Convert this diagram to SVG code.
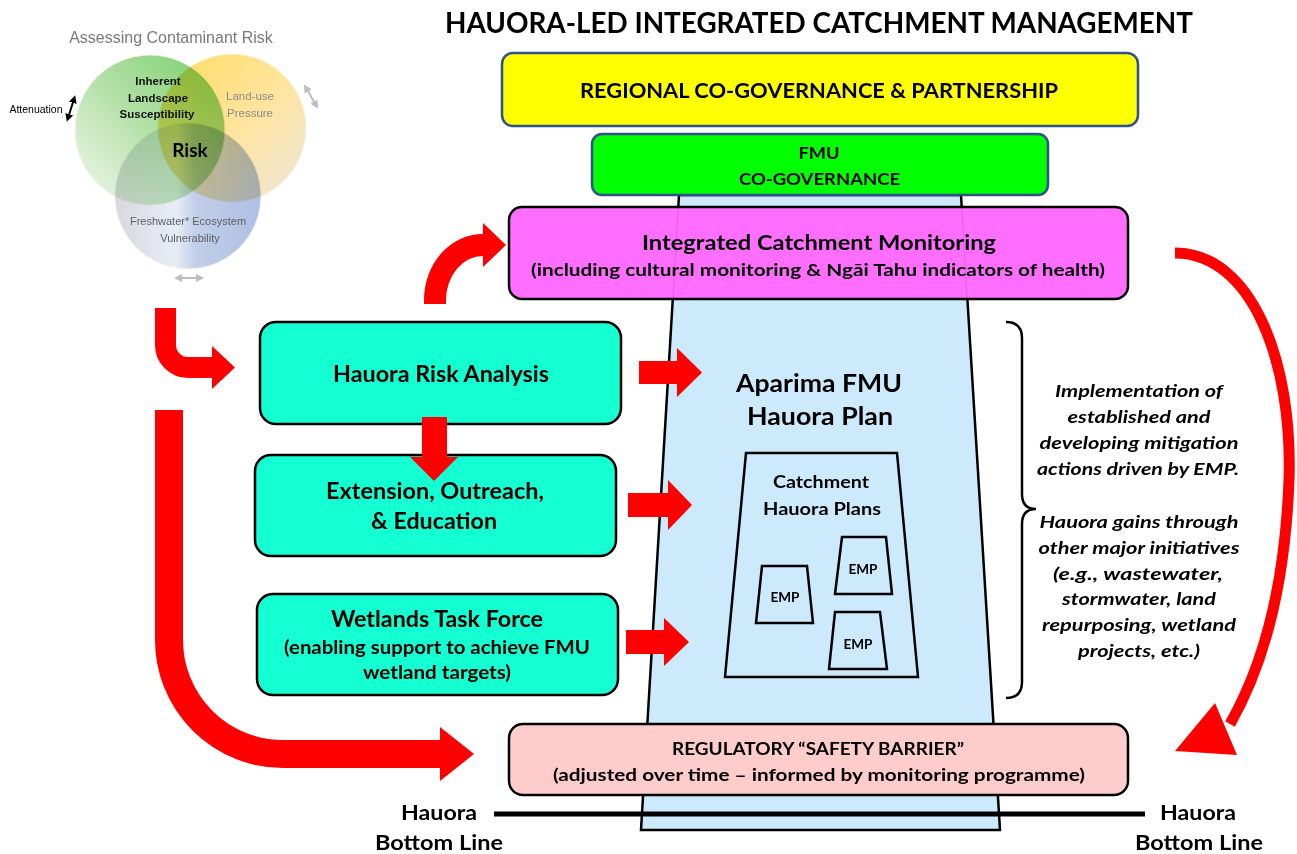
<svg xmlns="http://www.w3.org/2000/svg" width="1297" height="854" viewBox="0 0 1297 854">
  <style>
    .t { font-family: Lato, "Liberation Sans", Arial, sans-serif; font-weight: 700; fill: #000; text-anchor: middle; }
    .bi { font-family: Lato, "Liberation Sans", Arial, sans-serif; font-weight: 700; font-style: italic; fill: #000; text-anchor: middle; font-size: 17px; }
    .v { font-family: "Liberation Sans", Arial, sans-serif; text-anchor: middle; }
    .box { stroke: #000; stroke-width: 2.5; }
    .teal { fill: #14FFD2; }
    .red { fill: #FF0000; }
    .redline { fill: none; stroke: #FF0000; stroke-linecap: butt; }
    .venn { mix-blend-mode: multiply; stroke: #F4F0E6; stroke-width: 1; }
  </style>
  <defs>
    <linearGradient id="gGreen" x1="1" y1="0" x2="0" y2="1">
      <stop offset="0" stop-color="#62C853"/>
      <stop offset="0.5" stop-color="#A6DB97"/>
      <stop offset="1" stop-color="#F1F8EE"/>
    </linearGradient>
    <linearGradient id="gYellow" x1="0" y1="0" x2="1" y2="1">
      <stop offset="0" stop-color="#FFD646"/>
      <stop offset="0.5" stop-color="#FFE08A"/>
      <stop offset="1" stop-color="#EAE2D6"/>
    </linearGradient>
    <linearGradient id="gBlue" x1="0" y1="0" x2="1" y2="0">
      <stop offset="0" stop-color="#D2D2DA"/>
      <stop offset="0.42" stop-color="#E4EAF4"/>
      <stop offset="0.55" stop-color="#B7C7E6"/>
      <stop offset="1" stop-color="#A1B5DF"/>
    </linearGradient>
    <marker id="ahBlack" viewBox="0 0 10 10" refX="5" refY="5" markerWidth="4" markerHeight="4" orient="auto-start-reverse">
      <path d="M0,0 L10,5 L0,10 Z" fill="#000"/>
    </marker>
    <marker id="ahGray" viewBox="0 0 10 10" refX="5" refY="5" markerWidth="4" markerHeight="4" orient="auto-start-reverse">
      <path d="M0,0 L10,5 L0,10 Z" fill="#BDBDBD"/>
    </marker>
  </defs>

  <rect width="1297" height="854" fill="#FFFFFF"/>

  <!-- Contaminant risk Venn -->
  <g id="venn">
    <text class="v" x="171" y="43" font-size="16" fill="#7A7A7A">Assessing Contaminant Risk</text>
    <circle class="venn" cx="150" cy="130" r="75" fill="url(#gGreen)" opacity="0.86"/>
    <circle class="venn" cx="232" cy="128" r="74" fill="url(#gYellow)" opacity="0.86"/>
    <circle class="venn" cx="188" cy="196" r="73" fill="url(#gBlue)" opacity="0.86"/>
    <text class="v" x="158" y="85" font-size="11.5" font-weight="700" fill="#111" text-anchor="end">Inherent</text>
    <text class="v" x="158" y="102" font-size="11.5" font-weight="700" fill="#111" text-anchor="end">Landscape</text>
    <text class="v" x="157" y="118" font-size="11.5" font-weight="700" fill="#111" text-anchor="end">Susceptibility</text>
    <text class="v" x="250" y="100" font-size="11.5" fill="#8A8A8A">Land-use</text>
    <text class="v" x="250" y="117" font-size="11.5" fill="#8A8A8A">Pressure</text>
    <text class="t" x="190" y="157" font-size="19">Risk</text>
    <text class="v" x="188" y="225" font-size="11" fill="#5E5E66">Freshwater* Ecosystem</text>
    <text class="v" x="190" y="242" font-size="11" fill="#5E5E66">Vulnerability</text>
    <text class="v" x="36" y="113" font-size="10.5" fill="#000">Attenuation</text>
    <line x1="68" y1="118" x2="74" y2="99" stroke="#000" stroke-width="2" marker-start="url(#ahBlack)" marker-end="url(#ahBlack)"/>
    <line x1="306" y1="88" x2="316" y2="105" stroke="#BDBDBD" stroke-width="2" marker-start="url(#ahGray)" marker-end="url(#ahGray)"/>
    <line x1="178" y1="278" x2="200" y2="278" stroke="#BDBDBD" stroke-width="2" marker-start="url(#ahGray)" marker-end="url(#ahGray)"/>
  </g>

  <!-- Title -->
  <text class="t" x="819" y="33" font-size="28" textLength="748" lengthAdjust="spacingAndGlyphs">HAUORA-LED INTEGRATED CATCHMENT MANAGEMENT</text>

  <!-- FMU plan column -->
  <g id="fmu-plan">
    <polygon points="679,195 961,195 1000,830 641,830" fill="#CDEAFC" stroke="#000" stroke-width="2.5"/>
    <text class="t" x="819" y="392" font-size="24" textLength="166" lengthAdjust="spacingAndGlyphs">Aparima FMU</text>
    <text class="t" x="820" y="425" font-size="24" textLength="146" lengthAdjust="spacingAndGlyphs">Hauora Plan</text>
  </g>

  <g id="catchment-plans">
    <polygon points="746,453 897,453 918,677 725,677" fill="none" stroke="#000" stroke-width="2.5"/>
    <text class="t" x="821" y="488" font-size="16.5" textLength="96" lengthAdjust="spacingAndGlyphs">Catchment</text>
    <text class="t" x="822" y="515" font-size="16.5" textLength="118" lengthAdjust="spacingAndGlyphs">Hauora Plans</text>
  </g>
  <g id="emp-1">
    <polygon points="762,566 807,566 813,623 756,623" fill="none" stroke="#000" stroke-width="2.5"/>
    <text class="t" x="785" y="602" font-size="14" textLength="29" lengthAdjust="spacingAndGlyphs">EMP</text>
  </g>
  <g id="emp-2">
    <polygon points="842,537 886,537 892,594 835,594" fill="none" stroke="#000" stroke-width="2.5"/>
    <text class="t" x="863" y="574" font-size="14" textLength="29" lengthAdjust="spacingAndGlyphs">EMP</text>
  </g>
  <g id="emp-3">
    <polygon points="835,612 880,612 887,669 829,669" fill="none" stroke="#000" stroke-width="2.5"/>
    <text class="t" x="858" y="649" font-size="14" textLength="29" lengthAdjust="spacingAndGlyphs">EMP</text>
  </g>

  <!-- Governance tiers -->
  <g id="regional">
    <rect x="502" y="53" width="636" height="73" rx="11" fill="#FFFF00" stroke="#2F528F" stroke-width="2.5"/>
    <text class="t" x="819" y="98" font-size="21" textLength="478" lengthAdjust="spacingAndGlyphs">REGIONAL CO-GOVERNANCE &amp; PARTNERSHIP</text>
  </g>
  <g id="fmu-cogov">
    <rect x="592" y="134" width="456" height="61" rx="10" fill="#00FF00" stroke="#2F528F" stroke-width="2.5"/>
    <text class="t" x="819" y="159" font-size="17.5" textLength="41" lengthAdjust="spacingAndGlyphs">FMU</text>
    <text class="t" x="819.5" y="185" font-size="17.5" textLength="161" lengthAdjust="spacingAndGlyphs">CO-GOVERNANCE</text>
  </g>
  <g id="monitoring">
    <rect class="box" x="509" y="207" width="619" height="92" rx="13" fill="#FF6EFF"/>
    <!-- column edges showing faintly through the monitoring panel -->
    <line x1="678" y1="208" x2="673" y2="298" stroke="#000" stroke-width="1" opacity="0.12"/>
    <line x1="962" y1="208" x2="967" y2="298" stroke="#000" stroke-width="1" opacity="0.12"/>
    <text class="t" x="819" y="250" font-size="21" textLength="354" lengthAdjust="spacingAndGlyphs">Integrated Catchment Monitoring</text>
    <text class="t" x="818" y="276" font-size="17" textLength="574" lengthAdjust="spacingAndGlyphs">(including cultural monitoring &amp; Ngāi Tahu indicators of health)</text>
  </g>

  <!-- Hauora actions -->
  <g id="risk-analysis">
    <rect class="box teal" x="260" y="322" width="361" height="102" rx="16"/>
    <text class="t" x="441" y="382" font-size="22" textLength="216" lengthAdjust="spacingAndGlyphs">Hauora Risk Analysis</text>
  </g>
  <g id="extension">
    <rect class="box teal" x="255" y="455" width="361" height="101" rx="16"/>
    <text class="t" x="435" y="499" font-size="22" textLength="218" lengthAdjust="spacingAndGlyphs">Extension, Outreach,</text>
    <text class="t" x="434" y="529" font-size="22" textLength="126" lengthAdjust="spacingAndGlyphs">&amp; Education</text>
  </g>
  <g id="wetlands">
    <rect class="box teal" x="257" y="594" width="361" height="101" rx="16"/>
    <text class="t" x="437" y="627" font-size="22" textLength="212" lengthAdjust="spacingAndGlyphs">Wetlands Task Force</text>
    <text class="t" x="437" y="654" font-size="18" textLength="306" lengthAdjust="spacingAndGlyphs">(enabling support to achieve FMU</text>
    <text class="t" x="437" y="679" font-size="18" textLength="148" lengthAdjust="spacingAndGlyphs">wetland targets)</text>
  </g>

  <!-- Regulatory barrier and bottom line -->
  <g id="regulatory">
    <rect class="box" x="509" y="724" width="619" height="71" rx="14" fill="#FFCCCC"/>
    <text class="t" x="818" y="755" font-size="16.5" textLength="292" lengthAdjust="spacingAndGlyphs">REGULATORY “SAFETY BARRIER”</text>
    <text class="t" x="819" y="781" font-size="17" textLength="532" lengthAdjust="spacingAndGlyphs">(adjusted over time – informed by monitoring programme)</text>
  </g>
  <g id="bottom-line">
    <line x1="494" y1="814" x2="1145" y2="814" stroke="#000" stroke-width="5"/>
    <text class="t" x="439" y="820" font-size="20" textLength="76" lengthAdjust="spacingAndGlyphs">Hauora</text>
    <text class="t" x="439" y="850" font-size="20" textLength="128" lengthAdjust="spacingAndGlyphs">Bottom Line</text>
    <text class="t" x="1198" y="820" font-size="20" textLength="76" lengthAdjust="spacingAndGlyphs">Hauora</text>
    <text class="t" x="1199" y="850" font-size="20" textLength="128" lengthAdjust="spacingAndGlyphs">Bottom Line</text>
  </g>

  <!-- Mitigation actions note -->
  <g id="mitigation-note">
    <path d="M1006,322 Q1022,322 1022,338 L1022,494 Q1022,509 1036,509 Q1022,509 1022,524 L1022,682 Q1022,698 1006,698" fill="none" stroke="#000" stroke-width="2.5"/>
    <text class="bi" x="1139" y="397" textLength="168" lengthAdjust="spacingAndGlyphs">Implementation of</text>
    <text class="bi" x="1139" y="423" textLength="143" lengthAdjust="spacingAndGlyphs">established and</text>
    <text class="bi" x="1139" y="449" textLength="199" lengthAdjust="spacingAndGlyphs">developing mitigation</text>
    <text class="bi" x="1138" y="475" textLength="202" lengthAdjust="spacingAndGlyphs">actions driven by EMP.</text>
    <text class="bi" x="1139" y="528" textLength="199" lengthAdjust="spacingAndGlyphs">Hauora gains through</text>
    <text class="bi" x="1139" y="554" textLength="201" lengthAdjust="spacingAndGlyphs">other major initiatives</text>
    <text class="bi" x="1138" y="580" textLength="170" lengthAdjust="spacingAndGlyphs">(e.g., wastewater,</text>
    <text class="bi" x="1139" y="605" textLength="154" lengthAdjust="spacingAndGlyphs">stormwater, land</text>
    <text class="bi" x="1139" y="631" textLength="194" lengthAdjust="spacingAndGlyphs">repurposing, wetland</text>
    <text class="bi" x="1139" y="657" textLength="122" lengthAdjust="spacingAndGlyphs">projects, etc.)</text>
  </g>

  <!-- Connectors -->
  <g id="connectors">
    <!-- risk assessment into analysis -->
    <path class="redline" d="M165.5,308 L165.5,345 A22.5,22.5 0 0 0 188,367.5 L214,367.5" stroke-width="21"/>
    <polygon class="red" points="212,346 235,367.5 212,389"/>
    <!-- risk assessment straight to regulatory barrier -->
    <path class="redline" d="M169,410 L169,640 A114,114 0 0 0 283,754 L442,754" stroke-width="28"/>
    <polygon class="red" points="440,727 474,754 440,781"/>
    <!-- analysis to monitoring -->
    <path class="red" d="M424,304 L424,300 A59,66 0 0 1 483,234 L483,223 L506,245 L483,267 L483,256 A37,44 0 0 0 446,300 L446,304 Z"/>
    <!-- analysis down to extension -->
    <polygon class="red" points="422,417 447,417 447,457 458,457 434,481 410,457 422,457"/>
    <!-- actions into the FMU plan -->
    <polygon class="red" points="639,361 677,361 677,348 702,372.5 677,397 677,384 639,384"/>
    <polygon class="red" points="628,493 668,493 668,480 692,505 668,530 668,517 628,517"/>
    <polygon class="red" points="626,630 664,630 664,618 689,642 664,666 664,654 626,654"/>
    <!-- monitoring feedback to regulatory barrier -->
    <path class="redline" d="M1175,253 C1252,253 1293,362 1289,480 C1285,590 1262,668 1230,724" stroke-width="11"/>
    <polygon class="red" points="1215,703 1175,751 1237,755"/>
  </g>
</svg>
